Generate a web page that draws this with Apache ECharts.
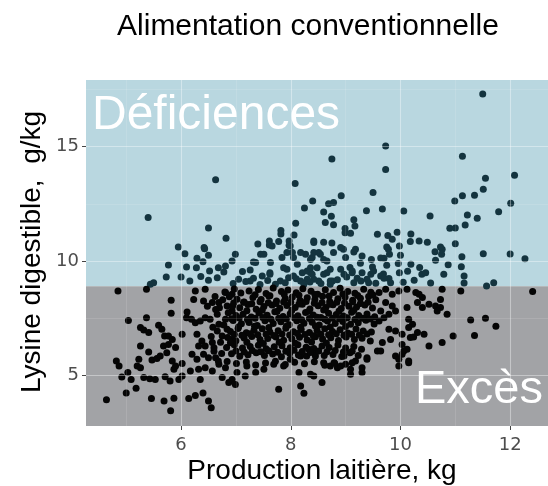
<!DOCTYPE html>
<html>
<head>
<meta charset="utf-8">
<script src="https://cdn.jsdelivr.net/npm/echarts@6/dist/echarts.min.js"></script>
<style>html,body{margin:0;padding:0;background:#fff;}#chart{width:548px;height:486px;}</style>
</head>
<body>
<div id="chart"></div>
<script>
// ---- tick labels / axis ranges ----
const xTicks = [6, 8, 10, 12];
const xMinorLines = [5, 7, 9, 11];
const yTicks = [5, 10, 15];
const yMinorLines = [7.5, 12.5, 17.5];
const xRange = [4.267, 12.69];
const yRange = [2.78, 17.92];
const thresholdLysine = [8.89];

// ---- observed cows: [milk kg, digestible lysine g/kg] ----
const pointsHighOutliers = [
[6.63,13.55],[8.08,13.39],[8.40,12.63],[8.25,12.32],[5.40,11.90],[8.09,11.65],[6.50,11.44],[6.82,10.99],
[7.82,11.33],[7.82,11.18],[8.06,11.14],[8.42,10.88],[7.40,10.74],[7.61,10.88],[7.61,10.70],[7.78,10.85],
[7.97,10.88],[7.97,10.69],[5.95,10.61],[6.42,10.59],
[11.50,17.31],[9.73,15.03],[8.75,14.46],[9.73,14.0],[11.13,14.58],[11.55,13.62],[12.08,13.75],[11.51,13.14],
[11.35,12.88],[11.13,12.86],[10.99,12.63],[12.01,12.53],[11.79,12.16],[9.50,13.0],[8.92,12.86],[8.69,12.51],
[8.78,12.56],[8.60,12.14],[8.74,11.96],[8.63,11.69],[8.78,11.59],[9.15,11.81],[9.17,11.53],[8.99,11.42],
[8.99,11.24],[9.09,11.21],[9.38,12.2],[9.67,12.28],[10.06,12.19],[10.54,11.97],[11.22,12.01],[11.40,11.87],
[11.18,11.58],[10.90,11.43],[11.0,11.44],[9.58,11.17],[9.77,11.12],[9.85,10.95],[9.94,11.26],[10.19,11.18],
[10.18,10.85],[10.34,10.88],[10.49,10.82],[11.0,10.76],[8.60,10.82],[8.75,10.79],[9.75,10.61],[10.73,10.61]
];
const pointsDeficientBand = [
[11.51,10.32],[12.0,10.31],[12.27,10.1],[10.63,10.41],[10.76,10.51],[10.75,10.29],[10.87,9.84],[11.12,10.19],
[10.64,10.03],[11.11,9.75],[11.16,9.34],[11.16,9.04],[10.79,9.42],[10.39,9.42],[10.46,9.49],[10.35,9.72],
[10.19,9.86],[10.13,9.55],[9.96,9.89],[9.98,9.49],[9.70,10.12],[9.75,9.81],[9.69,9.43],[9.79,9.23],
[9.47,10.07],[9.49,9.74],[9.46,9.42],[9.27,9.9],[9.30,9.49],[9.21,9.24],[9.08,9.72],[9.12,9.49],
[8.97,9.42],[8.91,9.64],[10.0,10.25],[9.98,10.66],[9.78,10.51],[9.80,10.29],[9.64,10.13],[9.64,9.34],
[9.42,9.05],[9.82,9.05],[8.78,10.37],[8.96,10.51],[9.15,10.39],[8.54,10.29],[8.39,10.15],[8.66,10.0],
[8.27,10.29],[8.48,9.71],[8.72,9.64],[8.60,9.42],[8.36,9.49],[8.30,9.20],[8.51,9.12],[8.76,9.12],
[6.07,10.32],[6.43,10.54],[6.50,10.25],[6.29,10.12],[6.40,9.97],[5.77,9.82],[6.10,9.74],[6.28,9.71],
[6.52,9.56],[6.68,9.71],[6.78,9.52],[5.73,9.30],[6.0,9.30],[6.16,9.12],[6.36,9.32],[6.50,9.16],
[6.66,9.27],[6.81,9.78],[6.93,10.0],[6.99,10.29],[7.12,9.54],[7.26,9.61],[7.32,9.96],[7.45,10.29],
[7.62,9.49],[7.48,9.34],[7.32,9.24],[5.44,8.98],[5.50,9.05],[7.66,10.66],[7.93,10.37],[8.05,10.15],
[8.18,10.37],[8.36,10.07],[8.42,10.37],[7.93,9.64],[8.05,9.34],[8.30,9.56],[8.42,9.20],[8.18,9.12],
[7.81,9.12],[7.36,9.93],[7.51,10.29],[7.63,9.93],[7.62,9.42],[7.84,10.15],[7.87,9.71],[7.99,10.66],
[8.03,10.37],[8.12,9.86],[7.96,9.27],[8.21,9.49],[8.36,9.71],[8.39,9.42],[8.42,10.81],[8.51,10.37],
[8.60,10.07],[8.66,9.49],[8.72,9.12],[8.91,10.59],[9.0,10.15],[9.12,9.56],[9.18,10.51],[9.30,10.22],
[9.51,9.56],[9.39,9.20],[9.15,9.05],[7.05,9.20],[7.26,9.12],[7.72,8.98],[8.24,8.98],[8.72,8.98],
[11.57,8.91],[11.70,9.05],
[6.95,9.02],[7.18,9.10],[7.44,8.97],[7.58,9.15],[7.90,9.05],[8.10,9.22],[8.35,9.08],[8.55,9.01],
[8.85,9.18],[9.02,9.30],[9.28,9.12],[9.55,9.03],[9.70,9.25],[10.05,9.07],[10.25,9.16],[10.55,9.04]
];
const pointsLowLeft = [
[4.85,8.69],[5.37,8.76],[4.64,3.93],[5.0,4.22],[5.18,4.43],[5.81,3.45],[5.69,3.87],[5.87,3.99],
[5.46,3.98],[6.14,3.98],[6.26,4.12],[6.40,4.22],[6.50,3.87],[6.55,3.58],[4.82,5.62],[4.87,5.40],
[4.92,4.92],[5.03,5.12],[5.09,4.81],[5.20,5.40],[5.26,5.33],[5.23,5.70],[5.32,4.90],[5.43,4.85],
[5.53,4.82],[5.26,6.28],[5.41,6.02],[5.47,5.67],[5.56,5.73],[5.62,5.84],[5.71,4.94],[5.80,4.75],
[5.87,5.26],[5.96,4.82],[6.02,4.97],[5.04,7.40],[5.26,7.09],[5.37,7.52],[5.32,6.98],[5.41,6.87],
[5.59,7.19],[5.65,7.01],[5.70,6.72],[5.77,6.72],[5.84,6.57],[6.02,6.79],[5.68,6.28],[5.77,6.35],
[5.90,6.21],[5.74,5.99],[5.82,8.28],[5.82,7.71],[6.11,7.77],[6.10,7.52],[5.84,5.62],[5.90,5.40],
[6.02,5.52],[6.23,8.32],[6.41,8.25],[6.26,8.69],[6.44,8.76],[6.57,8.18],[6.19,7.45],[6.26,7.30],
[6.35,7.37],[6.44,7.52],[6.53,7.45],[6.29,6.79],[6.38,6.50],[6.32,6.28],[6.44,6.28],[6.57,6.43],
[6.20,5.92],[6.29,5.70],[6.41,5.92],[6.50,5.77],[6.63,5.77],[6.17,5.19],[6.32,5.26],[6.44,5.33],
[6.57,5.19],[6.69,5.48],[6.81,5.33],[6.75,4.90],[6.87,4.68],[6.35,4.82],[6.66,6.94],[6.75,6.72],
[6.84,7.01],[6.93,6.57],[6.69,7.23],[6.81,7.45],[6.93,7.81],[6.66,7.67],[6.81,8.62],[6.93,8.54],
[6.69,8.18],[6.84,8.03],
[6.62,8.45],[6.70,7.95],[6.58,7.10],[6.72,6.45],[6.60,6.05],[6.74,5.95],[6.63,7.88],[6.76,8.30],
[6.55,6.70],[6.68,5.62],[6.78,7.20],[6.48,8.02],[6.60,6.20]
];
const pointsLowBottom = [
[7.78,4.39],[8.18,4.53],[8.24,4.21],[8.15,5.12],[8.36,5.04],[8.57,4.68],[8.60,5.55],[8.72,5.40],
[8.85,5.33],[9.09,5.26],[9.30,5.12],[9.39,5.77],[9.18,5.62],[8.97,5.84],[8.45,5.84],[8.33,6.14],
[8.18,5.84],[7.99,5.70],[7.87,5.40],[7.69,5.48],[7.51,5.26],[7.36,5.12],[7.17,4.97],[7.02,5.12],
[6.93,4.82],[6.99,4.60],[7.20,5.40],[10.15,5.55],[10.12,6.14],[10.03,5.92],[9.61,7.37],[9.70,7.52],
[9.58,6.06],[9.39,5.70],[9.09,5.04],[9.30,5.33],[9.12,5.55],[8.91,5.40],[8.79,5.55],[8.42,4.97]
];
const pointsLowRight = [
[9.61,8.62],[9.73,8.76],[9.85,8.54],[9.97,8.69],[10.12,8.76],[10.28,8.62],[10.40,8.40],[10.52,8.11],
[10.64,8.03],[10.73,8.32],[10.76,8.76],[11.10,8.69],[9.73,8.18],[9.85,8.03],[9.64,7.81],[9.79,7.67],
[9.91,7.81],[10.12,7.96],[10.15,7.45],[10.22,7.23],[9.79,7.01],[9.91,6.94],[10.03,6.79],[10.18,6.65],
[10.31,6.87],[10.43,6.79],[10.03,6.35],[9.82,6.57],[9.67,6.43],[9.64,6.06],[9.91,5.84],[10.06,6.06],
[9.97,5.40],[10.15,5.62],[10.85,7.67],[10.73,7.96],[10.52,6.28],[10.76,6.43],[10.96,6.72],[11.35,6.74],
[11.28,7.42],[11.55,7.49],[11.74,7.14],[12.41,8.66],[10.31,8.18],[10.34,8.54],[10.40,7.96],[10.15,7.09],
[10.24,6.67],[10.67,7.81],[9.97,5.70]
];
const pointsLowCore = [
[6.80,8.64],[6.97,8.78],[7.09,8.60],[7.24,8.69],[7.41,8.75],[7.55,8.58],[7.68,8.82],[7.83,8.66],[7.95,8.73],[8.10,8.61],
[8.22,8.79],[8.37,8.68],[8.49,8.55],[8.63,8.74],[8.78,8.62],[8.90,8.81],[9.04,8.67],[9.17,8.59],[9.33,8.76],[9.46,8.63],
[6.88,8.44],[7.02,8.33],[7.15,8.21],[7.31,8.40],[7.46,8.31],[7.60,8.47],[7.74,8.25],[7.90,8.36],[8.03,8.43],[8.17,8.27],
[8.30,8.39],[8.44,8.32],[8.58,8.46],[8.71,8.23],[8.86,8.35],[8.99,8.42],[9.13,8.28],[9.27,8.37],[9.42,8.45],[9.55,8.30],
[6.94,8.03],[7.07,7.95],[7.22,8.10],[7.37,7.89],[7.51,8.01],[7.66,8.08],[7.80,7.93],[7.93,8.05],[8.08,7.97],[8.21,8.11],
[8.35,7.90],[8.50,8.04],[8.64,7.96],[8.77,8.09],[8.92,7.92],[9.06,8.02],[9.20,7.99],[9.35,8.08],[9.49,7.94],
[6.86,7.74],[7.00,7.61],[7.13,7.67],[7.28,7.55],[7.42,7.72],[7.57,7.63],[7.71,7.78],[7.86,7.57],[7.99,7.69],[8.13,7.60],
[8.27,7.75],[8.41,7.64],[8.55,7.53],[8.69,7.71],[8.83,7.66],[8.96,7.59],[9.11,7.76],[9.24,7.62],[9.39,7.68],[9.53,7.56],
[6.95,7.40],[7.10,7.25],[7.24,7.31],[7.39,7.18],[7.53,7.38],[7.68,7.27],[7.82,7.34],[7.97,7.21],[8.11,7.39],[8.24,7.28],
[8.39,7.32],[8.52,7.20],[8.67,7.37],[8.81,7.26],[8.95,7.35],[9.09,7.23],[9.23,7.30],[9.37,7.41],[9.52,7.24],
[6.90,6.91],[7.04,7.05],[7.19,6.86],[7.33,6.97],[7.48,7.03],[7.62,6.89],[7.77,6.95],[7.91,7.06],[8.05,6.90],[8.19,7.00],
[8.34,6.87],[8.48,6.96],[8.62,7.04],[8.76,6.92],[8.90,6.99],[9.04,6.85],[9.19,7.02],[9.32,6.94],[9.47,6.89],
[6.85,6.65],[7.00,6.51],[7.15,6.63],[7.29,6.70],[7.44,6.56],[7.58,6.61],[7.73,6.67],[7.87,6.53],[8.02,6.60],[8.16,6.66],
[8.30,6.54],[8.45,6.69],[8.58,6.59],[8.73,6.64],[8.87,6.52],[9.01,6.67],[9.16,6.57],[9.30,6.62],[9.45,6.50],
[6.83,6.21],[6.97,6.33],[7.12,6.19],[7.26,6.26],[7.41,6.31],[7.55,6.16],[7.70,6.25],[7.84,6.29],[7.99,6.20],[8.13,6.34],
[8.28,6.23],[8.42,6.17],[8.57,6.28],[8.70,6.22],[8.86,6.32],[9.00,6.19],[9.15,6.26],[9.29,6.14],
[6.92,5.94],[7.07,5.83],[7.22,5.90],[7.37,5.99],[7.52,5.86],[7.67,5.93],[7.83,5.81],[7.98,5.96],[8.14,5.89],[8.29,5.84],
[8.44,5.95],[8.61,5.87],[8.77,5.91],[8.93,5.82],[9.08,5.98],[9.23,5.86],
[6.84,5.60],[7.01,5.52],[7.19,5.58],[7.36,5.45],[7.54,5.54],[7.72,5.61],[7.90,5.47],[8.07,5.57],[8.25,5.50],[8.43,5.59],
[8.62,5.44],[8.80,5.53],[9.00,5.48],
[7.35,8.52],[7.62,8.48],[7.88,8.55],[8.15,8.50],[8.44,8.53],[8.70,8.47],[8.95,8.56],[9.22,8.49],[9.50,8.51],
[7.20,7.82],[7.48,7.85],[7.75,7.79],[8.02,7.84],[8.33,7.80],[8.60,7.86],[8.88,7.81],[9.15,7.83],
[7.05,7.12],[7.34,7.15],[7.60,7.09],[7.92,7.14],[8.18,7.10],[8.45,7.16],[8.72,7.11],[9.00,7.13],
[6.90,6.42],[7.20,6.45],[7.50,6.39],[7.79,6.44],[8.08,6.40],[8.38,6.46],[8.65,6.41],
[6.96,8.16],[7.14,8.20],[7.29,8.13],[7.44,8.22],[7.59,8.17],[7.73,8.14],[7.87,8.21],[8.00,8.19],[8.15,8.12],
[8.28,8.23],[8.43,8.15],[8.57,8.18],[8.71,8.11],[8.84,8.20],[8.98,8.16],[9.13,8.22],[9.27,8.14],[9.41,8.19],
[6.92,7.47],[7.06,7.51],[7.21,7.44],[7.35,7.49],[7.49,7.53],[7.64,7.45],[7.78,7.50],[7.92,7.46],[8.06,7.52],[8.20,7.43],
[8.34,7.48],[8.48,7.54],[8.62,7.45],[8.76,7.50],[8.89,7.47],[9.03,7.52],[9.17,7.44],[9.31,7.49],[9.45,7.46],
[6.97,6.79],[7.11,6.75],[7.26,6.82],[7.40,6.77],[7.55,6.80],[7.69,6.74],[7.84,6.81],[7.98,6.76],[8.12,6.83],
[8.26,6.78],[8.41,6.73],[8.55,6.80],[8.69,6.77],[8.83,6.82],[8.97,6.75],[9.11,6.79],[9.25,6.76],[9.39,6.81],
[7.00,6.06],[7.15,6.02],[7.30,6.08],[7.45,6.03],[7.60,6.07],[7.76,6.01],[7.91,6.05],[8.06,6.09],[8.21,6.04],
[8.36,6.00],[8.51,6.06],[8.66,6.03],[8.81,6.08],[8.96,6.02],[9.12,6.05]
];

const allPoints = [].concat(pointsHighOutliers, pointsDeficientBand, pointsLowLeft, pointsLowBottom, pointsLowRight, pointsLowCore);

const chart = echarts.init(document.getElementById('chart'), null, {renderer: 'canvas'});

const gridLineData = [];
xTicks.forEach(v => gridLineData.push({xAxis: v, lineStyle: {color: 'rgba(255,255,255,0.38)', width: 1.1, type: 'solid'}}));
xMinorLines.forEach(v => gridLineData.push({xAxis: v, lineStyle: {color: 'rgba(255,255,255,0.2)', width: 0.6, type: 'solid'}}));
yTicks.forEach(v => gridLineData.push({yAxis: v, lineStyle: {color: 'rgba(255,255,255,0.38)', width: 1.1, type: 'solid'}}));
yMinorLines.forEach(v => gridLineData.push({yAxis: v, lineStyle: {color: 'rgba(255,255,255,0.2)', width: 0.6, type: 'solid'}}));

const tickLabelStyle = {fontFamily: 'DejaVu Sans', fontSize: 18, color: '#4d4d4d'};
const labelFont = 'Liberation Sans';

chart.setOption({
  animation: false,
  backgroundColor: '#ffffff',
  grid: {left: 86, right: 0, top: 80, bottom: 60, containLabel: false},
  xAxis: {
    type: 'value', min: xRange[0], max: xRange[1],
    axisLine: {show: false},
    splitLine: {show: false},
    axisTick: {show: true, length: 4, customValues: xTicks, lineStyle: {color: '#444', width: 1}},
    axisLabel: Object.assign({margin: 10, customValues: xTicks}, tickLabelStyle)
  },
  yAxis: {
    type: 'value', min: yRange[0], max: yRange[1],
    axisLine: {show: false},
    splitLine: {show: false},
    axisTick: {show: true, length: 4, customValues: yTicks, lineStyle: {color: '#444', width: 1}},
    axisLabel: Object.assign({margin: 7, customValues: yTicks}, tickLabelStyle)
  },
  visualMap: {
    show: false, type: 'piecewise', dimension: 1, seriesIndex: 1,
    pieces: [
      {gte: thresholdLysine[0], color: '#14343f'},
      {lt: thresholdLysine[0], color: '#050505'}
    ]
  },
  series: [
    {
      type: 'scatter', data: [], z: 1, silent: true,
      markArea: {
        silent: true,
        data: [
          [{yAxis: thresholdLysine[0], itemStyle: {color: '#b9d7e0'}}, {yAxis: yRange[1]}],
          [{yAxis: yRange[0], itemStyle: {color: '#a2a3a6'}}, {yAxis: thresholdLysine[0]}]
        ]
      },
      markLine: {
        silent: true, symbol: ['none', 'none'], label: {show: false},
        data: gridLineData
      }
    },
    {
      type: 'scatter', z: 3,
      symbol: 'circle', symbolSize: 7,
      itemStyle: {opacity: 1},
      data: allPoints
    }
  ],
  graphic: [
    {type: 'text', x: 308, y: 27, z: 10,
     style: {text: 'Alimentation conventionnelle', fontFamily: labelFont, fontSize: 30, fill: '#000',
             align: 'center', verticalAlign: 'middle', textAlign: 'center', textVerticalAlign: 'middle'}},
    {type: 'text', x: 322, y: 471, z: 10,
     style: {text: 'Production laitière, kg', fontFamily: labelFont, fontSize: 28, fill: '#000',
             align: 'center', verticalAlign: 'middle', textAlign: 'center', textVerticalAlign: 'middle'}},
    {type: 'text', x: 32, y: 252, rotation: Math.PI / 2, z: 10,
     style: {text: 'Lysine digestible,  g/kg', fontFamily: labelFont, fontSize: 28, fill: '#000',
             align: 'center', verticalAlign: 'middle', textAlign: 'center', textVerticalAlign: 'middle'}},
    {type: 'text', x: 92, y: 116, z: 10,
     style: {text: 'Déficiences', fontFamily: labelFont, fontSize: 48, fill: '#ffffff',
             align: 'left', verticalAlign: 'middle', textAlign: 'left', textVerticalAlign: 'middle'}},
    {type: 'text', x: 543, y: 390, z: 10,
     style: {text: 'Excès', fontFamily: labelFont, fontSize: 47, fill: '#ffffff',
             align: 'right', verticalAlign: 'middle', textAlign: 'right', textVerticalAlign: 'middle'}}
  ]
});
</script>
</body>
</html>
